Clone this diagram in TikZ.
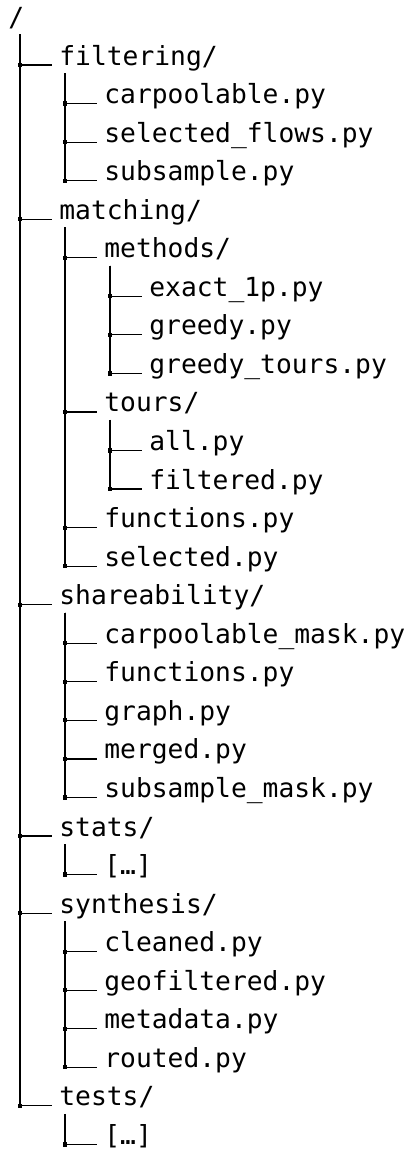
\documentclass[tikz,border=0pt]{standalone}
\usepackage{fontspec}
\newfontfamily\treefont{DejaVu Sans Mono}
\usetikzlibrary{calc}
\tikzset{
  file/.style={anchor=base west, inner sep=0pt, font=\treefont\fontsize{13.15}{15}\selectfont},
  branch/.style={line width=0.6pt},
  dot/.style={fill, rectangle, inner sep=0pt, minimum size=2.1pt}
}
\begin{document}
\begin{tikzpicture}[x=0.5pt, y=-0.5pt]
			\useasboundingbox (0,0) rectangle (416,1151);
			% root
			\node[file] (root) at (8,26.4) {/};
			% level 1
			\node[file] (filtering) at (59,65) {filtering/};
			\node[file] (matching) at (59,219.2) {matching/};
			\node[file] (shareability) at (59,604.7) {shareability/};
			\node[file] (stats) at (59,836) {stats/};
			\node[file] (synthesis) at (59,913.1) {synthesis/};
			\node[file] (tests) at (59,1105.8) {tests/};
			% filtering
			\node[file] (carpoolable) at (104,103.5) {carpoolable.py};
			\node[file] (selflows) at (104,142.1) {selected\_flows.py};
			\node[file] (subsample) at (104,180.6) {subsample.py};
			% matching
			\node[file] (methods) at (104,257.7) {methods/};
			\node[file] (exactlp) at (149,296.3) {exact\_1p.py};
			\node[file] (greedy) at (149,334.8) {greedy.py};
			\node[file] (greedytours) at (149,373.4) {greedy\_tours.py};
			\node[file] (tours) at (104,411.9) {tours/};
			\node[file] (all) at (149,450.5) {all.py};
			\node[file] (filtered) at (149,489) {filtered.py};
			\node[file] (mfunctions) at (104,527.6) {functions.py};
			\node[file] (mselected) at (104,566.1) {selected.py};
			% shareability
			\node[file] (cmask) at (104,643.2) {carpoolable\_mask.py};
			\node[file] (sfunctions) at (104,681.8) {functions.py};
			\node[file] (graph) at (104,720.3) {graph.py};
			\node[file] (merged) at (104,758.9) {merged.py};
			\node[file] (smask) at (104,797.4) {subsample\_mask.py};
			% stats
			\node[file] (statsdots) at (104,874.5) {[…]};
			% synthesis
			\node[file] (cleaned) at (104,951.6) {cleaned.py};
			\node[file] (geofiltered) at (104,990.2) {geofiltered.py};
			\node[file] (metadata) at (104,1028.7) {metadata.py};
			\node[file] (routed) at (104,1067.3) {routed.py};
			% tests
			\node[file] (testsdots) at (104,1144.4) {[…]};
			% branches from root
			\foreach \c in {filtering,matching,shareability,stats,synthesis,tests}
				\draw[branch] ($(root.base west)+(12,8)$) |- node[dot]{} ($(\c.base west)+(-7,0)$);
			% branches one level down
			\foreach \p/\c in {filtering/carpoolable,filtering/selflows,filtering/subsample,
					matching/methods,matching/tours,matching/mfunctions,matching/mselected,
					methods/exactlp,methods/greedy,methods/greedytours,
					tours/all,tours/filtered,
					shareability/cmask,shareability/sfunctions,shareability/graph,shareability/merged,shareability/smask,
					stats/statsdots,
					synthesis/cleaned,synthesis/geofiltered,synthesis/metadata,synthesis/routed,
					tests/testsdots}
				\draw[branch] ($(\p.base west)+(6,8)$) |- node[dot]{} ($(\c.base west)+(-7,0)$);
	\end{tikzpicture}
\end{document}
